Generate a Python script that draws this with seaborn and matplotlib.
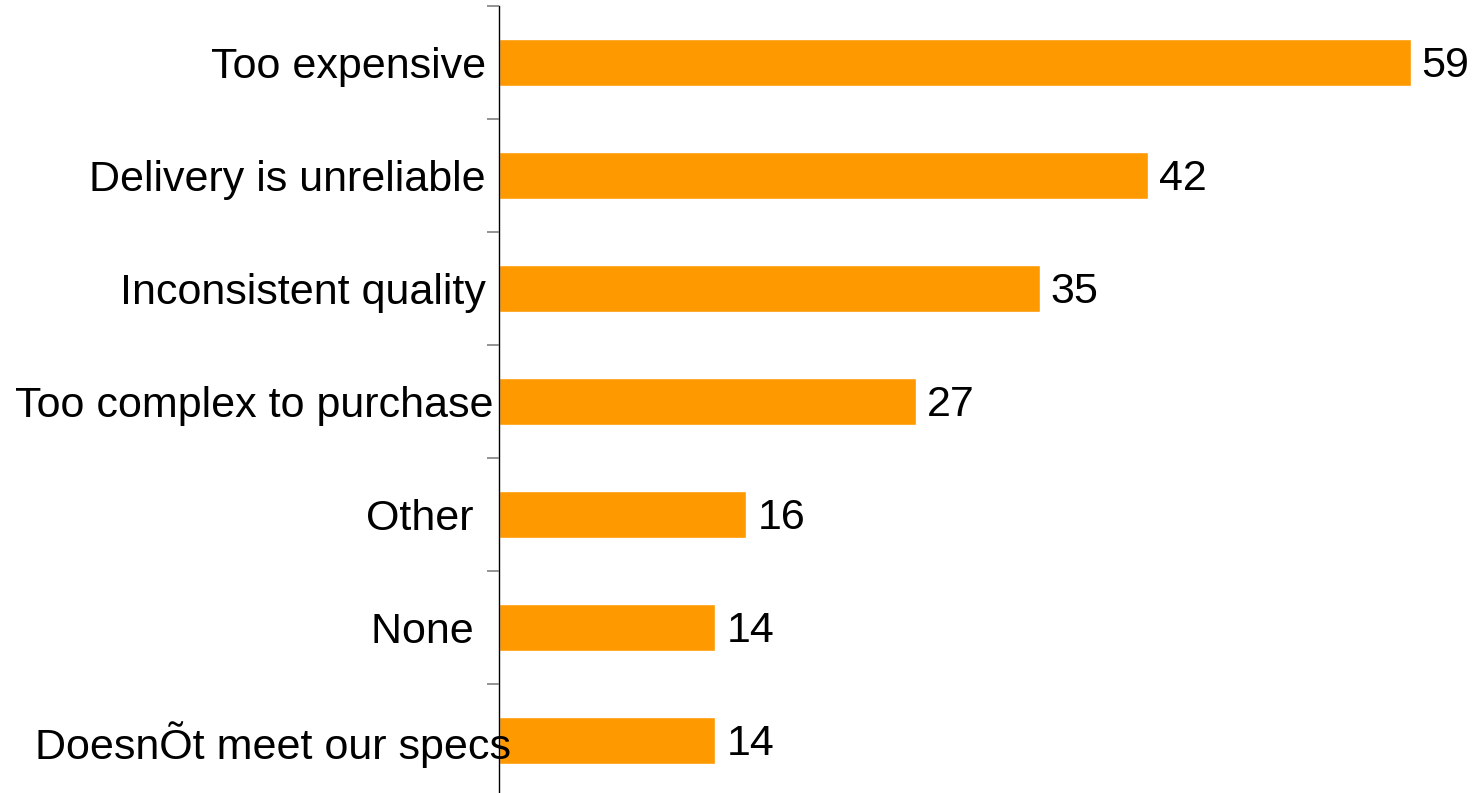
import numpy as np
import pandas as pd
import matplotlib
matplotlib.use("Agg")
import matplotlib.pyplot as plt
import matplotlib.transforms as mtransforms
from matplotlib.ticker import FixedLocator
import seaborn as sns

# ── Data ──────────────────────────────────────────────────────────────────────
REASONS = [
    "Too expensive",
    "Delivery is unreliable",
    "Inconsistent quality",
    "Too complex to purchase",
    "Other ",
    "None ",
    "Doesn\u00d5t meet our specs",
]
SHARES = [59, 42, 35, 27, 16, 14, 14]

BAR_ORANGE = "#FF9900"

sns.set_theme(style="white")
plt.rcParams["font.family"] = ["Liberation Sans", "DejaVu Sans"]

df = pd.DataFrame({"reason": REASONS, "share": SHARES})

# ── Figure ────────────────────────────────────────────────────────────────────
fig = plt.figure(figsize=(14.77, 7.93), dpi=100)
ax = fig.add_axes([499 / 1477, -4 / 793, 978 / 1477, 791 / 793])

sns.barplot(data=df, x="share", y="reason", orient="h", color=BAR_ORANGE,
            saturation=1, width=0.41, ax=ax)

value_labels = ax.bar_label(ax.containers[0], fmt="%d", padding=8,
                            fontsize=31, color="black")
# numbers sit a touch lower than the bar centre in the original
for t in value_labels:
    ox, oy = t.xyann
    t.xyann = (ox, oy - 2.2)

ax.set_xlim(0, 63.3)
ax.set_ylim(len(REASONS) - 0.5, -0.5)
ax.set_xlabel("")
ax.set_ylabel("")
ax.set_xticks([])
ax.set_axisbelow(False)  # labels sit on top of the bars, as in the original

for side in ["top", "right", "bottom"]:
    ax.spines[side].set_visible(False)
ax.spines["left"].set_color("black")
ax.spines["left"].set_linewidth(1.0)

# category labels, no tick at centres; short grey ticks between categories
ax.tick_params(axis="y", which="major", left=True, length=0, pad=9.5,
               labelsize=31, labelcolor="black")
ax.yaxis.set_minor_locator(FixedLocator(np.arange(-0.5, len(REASONS) - 0.5, 1)))
ax.tick_params(axis="y", which="minor", left=True, length=9, width=1.2,
               color="#808080", direction="out")

# the two long labels run over the axis line in the original
nudges = {"Too complex to purchase": 8, "Doesn\u00d5t meet our specs": 25}
for lbl in ax.get_yticklabels():
    dx = nudges.get(lbl.get_text(), 0)
    if dx:
        lbl.set_transform(lbl.get_transform() +
                          mtransforms.ScaledTranslation(dx / 100, 0, fig.dpi_scale_trans))

fig.savefig("out.png", dpi=100)
plt.close(fig)
